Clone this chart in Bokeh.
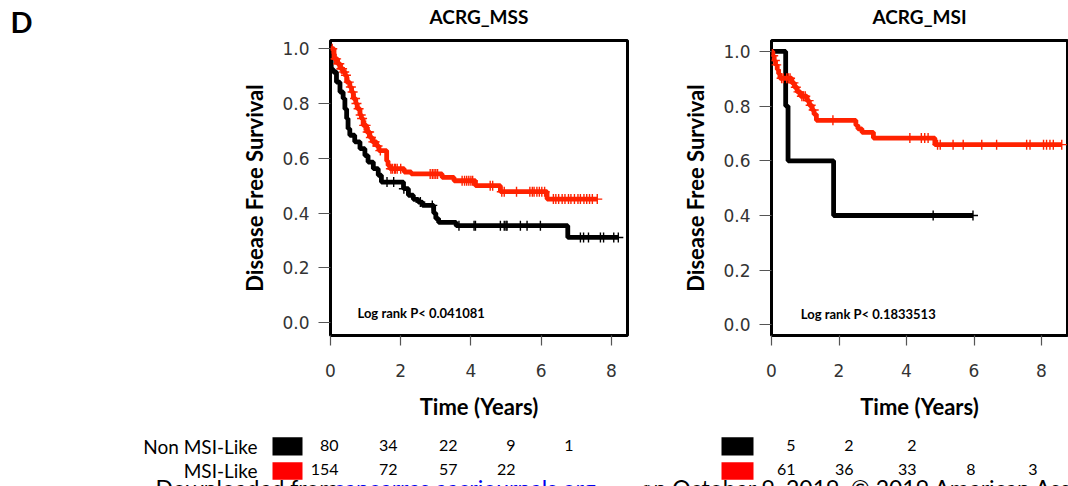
import numpy as np
from bokeh.plotting import figure
from bokeh.models import Range1d, Label, FixedTicker, NumeralTickFormatter
from bokeh.layouts import column, row
from bokeh.embed import file_html
from bokeh.resources import INLINE
from bokeh.core.properties import value

# ---------------- data ----------------
panel_tag = "D"
titles = ["ACRG_MSS", "ACRG_MSI"]
pvals = ["Log rank P< 0.041081", "Log rank P< 0.1833513"]
groups = ["Non MSI-Like", "MSI-Like"]
x_ticks = [0, 2, 4, 6, 8]
y_ticks = [0.0, 0.2, 0.4, 0.6, 0.8, 1.0]
footer = ["Downloaded from", "cancerres.aacrjournals.org",
          "on October 9, 2019. © 2019 American Association for Cancer Research."]

# ACRG_MSS : Non MSI-Like (black)
mss_non_t = [0, 0.02, 0.08, 0.17, 0.27, 0.36, 0.41, 0.46, 0.50, 0.55, 0.69, 0.84, 0.98, 1.07,
             1.22, 1.36, 1.45, 2.08, 2.22, 2.36, 2.5, 2.62, 2.94, 3.0, 3.08, 3.58, 6.76, 8.2]
mss_non_s = [1.0, 0.925, 0.915, 0.878, 0.842, 0.818, 0.78, 0.745, 0.708, 0.684, 0.66, 0.635, 0.61, 0.586,
             0.562, 0.538, 0.513, 0.489, 0.465, 0.45, 0.44, 0.428, 0.40, 0.38, 0.366, 0.354, 0.311, 0.311]
mss_non_cens = [1.61, 1.8, 2.09, 2.56, 2.9, 3.66, 4.09, 4.13, 4.84, 4.95, 5.0, 5.03, 5.41, 5.6,
                5.98, 7.12, 7.21, 7.35, 7.69, 7.78, 8.07, 8.2]

# ACRG_MSS : MSI-Like (red)
mss_msi_t = [0, 0.1, 0.2, 0.28, 0.36, 0.42, 0.46, 0.55, 0.6, 0.65, 0.72, 0.76, 0.84, 0.88, 0.93, 1.03,
             1.12, 1.19, 1.31, 1.38, 1.6, 1.64, 1.69, 2.1, 2.3, 3.18, 3.52, 4.13, 4.84, 6.17, 7.6]
mss_msi_s = [1.0, 0.963, 0.945, 0.927, 0.915, 0.903, 0.878, 0.86, 0.842, 0.818, 0.8, 0.781, 0.758, 0.745,
             0.72, 0.696, 0.676, 0.66, 0.645, 0.628, 0.59, 0.574, 0.562, 0.55, 0.543, 0.53, 0.518, 0.50,
             0.478, 0.451, 0.451]
mss_msi_cens = [0.05, 0.12, 0.16, 0.22, 0.25, 0.31, 0.33, 0.39, 0.44, 0.52, 0.58, 0.63, 0.7, 0.74, 0.8,
                0.86, 0.9, 0.96, 1.0, 1.06, 1.1, 1.15, 1.22, 1.26, 1.34, 1.42, 1.72, 1.76, 1.82, 1.85,
                1.9, 2.0, 2.84, 2.9, 2.95, 3.0, 3.05, 3.75, 3.82, 3.88, 3.94, 4.0, 4.05, 4.55, 4.62,
                4.88, 4.95, 5.3, 5.68, 5.75, 5.8, 5.88, 5.95, 6.02, 6.1, 6.35, 6.42, 6.5, 6.6, 6.68,
                6.78, 6.85, 6.95, 7.05, 7.12, 7.22, 7.3, 7.38, 7.46, 7.6]

# ACRG_MSI : Non MSI-Like (black)
msi_non_t = [0, 0.42, 0.49, 1.84, 5.97]
msi_non_s = [1.0, 0.8, 0.6, 0.4, 0.4]
msi_non_cens = [4.79, 5.97]

# ACRG_MSI : MSI-Like (red)
msi_msi_t = [0, 0.04, 0.08, 0.12, 0.17, 0.21, 0.25, 0.6, 0.68, 0.76, 0.86, 1.05, 1.12, 1.2, 1.26, 1.33,
             2.5, 2.56, 2.68, 3.02, 4.84, 8.6]
msi_msi_s = [1.0, 0.984, 0.967, 0.951, 0.934, 0.918, 0.902, 0.885, 0.869, 0.852, 0.836, 0.82, 0.803,
             0.786, 0.77, 0.748, 0.73, 0.717, 0.704, 0.683, 0.659, 0.659]
msi_msi_cens = [0.05, 0.1, 0.14, 0.3, 0.35, 0.45, 0.5, 0.55, 0.65, 0.72, 0.8, 0.9, 0.95, 1.0, 1.1, 1.16,
                1.25, 1.82, 4.1, 4.44, 4.54, 4.64, 4.92, 5.0, 5.38, 5.68, 6.23, 6.67, 7.56, 7.66, 8.06,
                8.15, 8.25, 8.35, 8.6]

# numbers at risk
mss_risk_non = [80, 34, 22, 9, 1]
mss_risk_msi = [154, 72, 57, 22]
msi_risk_non = [5, 2, 2]
msi_risk_msi = [61, 36, 33, 8, 3]

BLACK = "#000000"
RED = "#ff2200"
BOX_RED = "#ff0000"
LATO = value("Lato")

LEFT_W = 40     # narrow column holding the panel letter
TOP_H = 28      # strip with titles
KM_H = 400      # survival panels
TAB_H = 58      # numbers-at-risk strip


def surv_at(T, S, t):
    T = np.asarray(T)
    S = np.asarray(S)
    idx = np.searchsorted(T, t, side="right") - 1
    return S[np.clip(idx, 0, len(S) - 1)]


def blank(width, height):
    f = figure(width=width, height=height, x_range=Range1d(0, width), y_range=Range1d(height, 0),
               output_backend="svg", toolbar_location=None, title=None,
               min_border_left=0, min_border_right=0, min_border_top=0, min_border_bottom=0,
               x_axis_type=None, y_axis_type=None)
    f.grid.visible = False
    f.outline_line_color = None
    return f


def km_panel(width, mb_left, mb_right, mb_top, frame_h, xmax, ymin, ymax, curves, pval, px, py):
    p = figure(width=width, height=KM_H, x_range=Range1d(0, xmax), y_range=Range1d(ymin, ymax),
               output_backend="svg", toolbar_location=None, title=None,
               min_border_left=mb_left, min_border_right=mb_right, min_border_top=mb_top,
               min_border_bottom=KM_H - mb_top - frame_h)
    p.grid.visible = False
    p.outline_line_color = "#000000"
    p.outline_line_width = 3
    p.background_fill_color = "white"
    p.border_fill_color = "white"

    p.xaxis.ticker = FixedTicker(ticks=x_ticks)
    p.yaxis.ticker = FixedTicker(ticks=y_ticks)
    p.yaxis.formatter = NumeralTickFormatter(format="0.0")
    p.axis.axis_line_color = None
    p.axis.minor_tick_line_color = None
    p.axis.major_tick_line_color = "#555555"
    p.axis.major_tick_line_width = 1.2
    p.axis.major_tick_in = 0
    p.xaxis.major_tick_out = 10
    p.yaxis.major_tick_out = 12
    p.axis.major_label_text_font = "DejaVu Sans"
    p.axis.major_label_text_font_size = "17px"
    p.axis.major_label_text_color = "#333333"
    p.xaxis.major_label_standoff = 18
    p.yaxis.major_label_standoff = 9
    p.xaxis.axis_label = "Time (Years)"
    p.yaxis.axis_label = "Disease Free Survival"
    p.axis.axis_label_text_font = "Lato"
    p.axis.axis_label_text_font_style = "bold"
    p.axis.axis_label_text_font_size = "22px"
    p.axis.axis_label_text_color = "#000000"
    p.xaxis.axis_label_standoff = 13
    p.yaxis.axis_label_standoff = 11

    for T, S, C, col in curves:
        p.step(T, S, mode="after", line_color=col, line_width=4.8)
        p.scatter(C, surv_at(T, S, C), marker="cross", size=10, line_color=col, line_width=1.4)

    p.add_layout(Label(x=px, y=py, text=pval, text_font="Lato", text_font_style="bold",
                       text_font_size="13px", text_baseline="middle", text_color="#000000"))
    return p


# left column: panel letter
left = blank(LEFT_W, TOP_H + KM_H + TAB_H)
left.text(x=[10], y=[21], text=[panel_tag], text_font=LATO, text_font_style="bold",
          text_font_size="29px", text_baseline="middle", text_align="left", text_color="#000000")

# top strip: titles
top = blank(1068 - LEFT_W, TOP_H)
top.text(x=[478.5 - LEFT_W, 919 - LEFT_W], y=[16.3, 16.3], text=titles, text_font=LATO,
         text_font_style="bold", text_font_size="19px", text_baseline="middle", text_align="center",
         text_color="#000000")

# plots in one row share their frame top/bottom, so both frames span the same rows
f1 = km_panel(647 - LEFT_W, 330 - LEFT_W, 20, 12, 295, 297 / 35.1, -0.047, 1.030,
              [(mss_non_t, mss_non_s, mss_non_cens, BLACK),
               (mss_msi_t, mss_msi_s, mss_msi_cens, RED)],
              pvals[0], 0.77, 0.036)

f2 = km_panel(421, 124, 1, 12, 295, 296 / 33.75, -0.039, 1.04,
              [(msi_non_t, msi_non_s, msi_non_cens, BLACK),
               (msi_msi_t, msi_msi_s, msi_msi_cens, RED)],
              pvals[1], 0.87, 0.04)


def risk_table(width, x0, label_x, box_l, box_r, num_x, risk_non, risk_msi, show_labels):
    # all x positions below are given in page pixels and shifted by the strip origin x0
    t = blank(width, TAB_H)
    if show_labels:
        t.text(x=[label_x - x0] * 2, y=[18.3, 42.4], text=groups, text_align="right",
               text_baseline="middle", text_font=LATO, text_font_size="19px", text_color="#000000")
    t.quad(left=[box_l - x0] * 2, right=[box_r - x0] * 2, top=[8.7, 33.7], bottom=[27, 51.3],
           fill_color=[BLACK, BOX_RED], line_color=None)
    nx = [v - x0 for v in num_x]
    t.text(x=nx[:len(risk_non)], y=[16.9] * len(risk_non), text=[str(v) for v in risk_non],
           text_align="right", text_baseline="middle", text_font=LATO, text_font_size="16px",
           text_color="#000000")
    t.text(x=nx[:len(risk_msi)], y=[40.9] * len(risk_msi), text=[str(v) for v in risk_msi],
           text_align="right", text_baseline="middle", text_font=LATO, text_font_size="16px",
           text_color="#000000")
    # partially visible download notice along the bottom edge
    fx = [155 - x0, 333 - x0, 640 - x0]
    fc = ["#000000", "#0000ee", "#000000"]
    t.text(x=fx, y=[45, 45, 45], text=footer, text_align="left", text_baseline="top",
           text_font=LATO, text_font_size="23px", text_color=fc)
    return t


t1 = risk_table(647 - LEFT_W, LEFT_W, 257, 272, 302, [338, 397, 457, 515, 573],
                mss_risk_non, mss_risk_msi, True)
t2 = risk_table(421, 647, 0, 721, 753, [795, 853, 916, 975, 1037],
                msi_risk_non, msi_risk_msi, False)

layout = row(left, column(top, row(f1, f2), row(t1, t2)))
open("out.html", "w").write(file_html(layout, INLINE))
